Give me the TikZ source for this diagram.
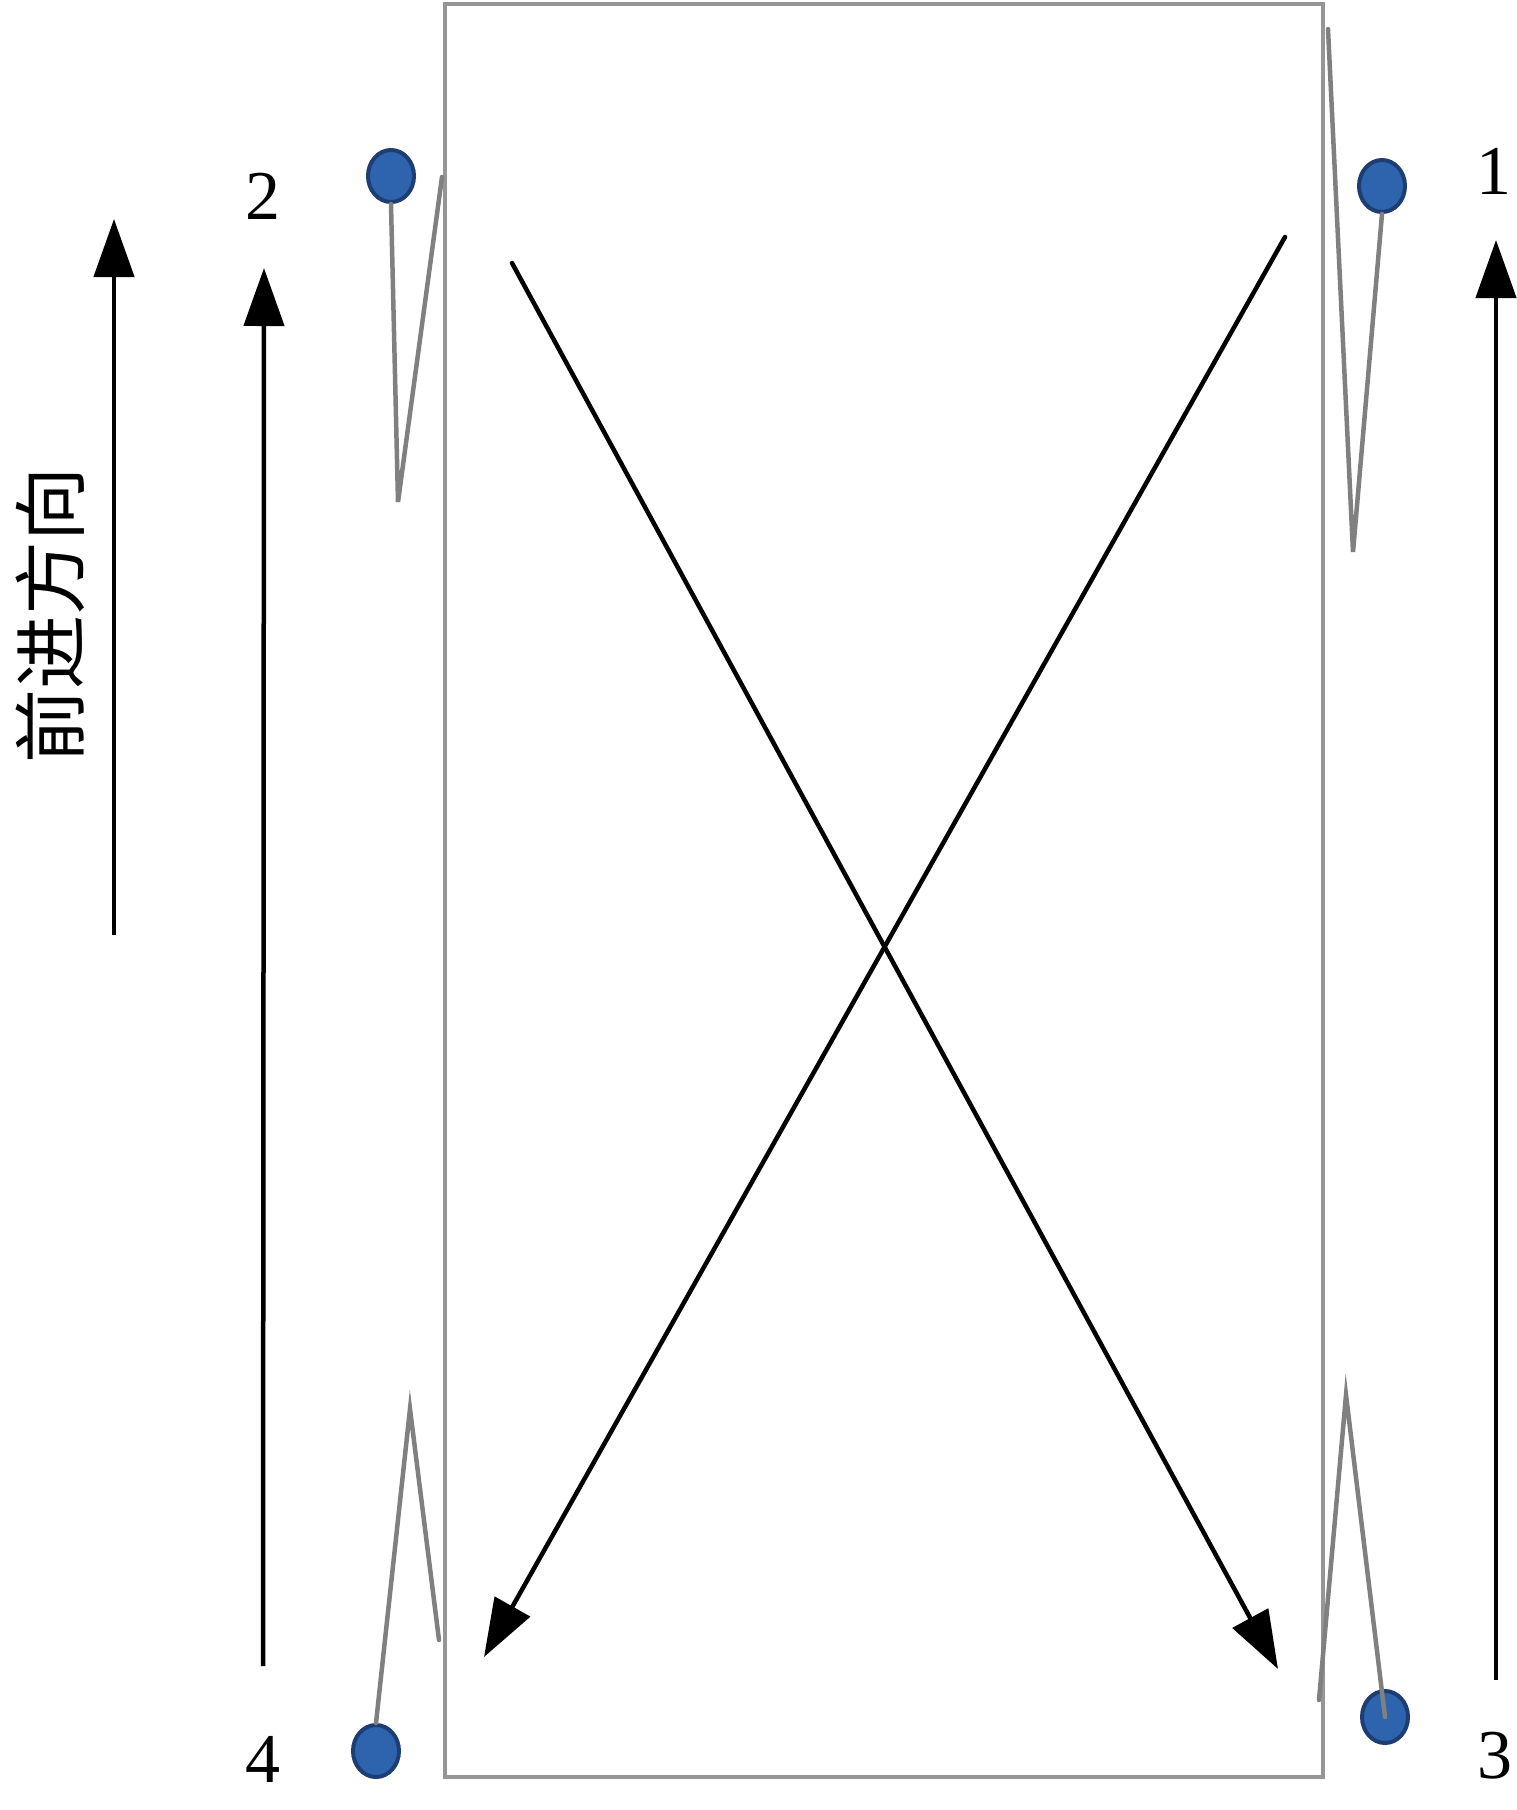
\documentclass[tikz,border=0pt]{standalone}
\usepackage{fontspec}
\setmainfont{Liberation Serif}
\newfontfamily\cjk{Noto Sans CJK SC}
\usetikzlibrary{arrows.meta,shapes.geometric}
\definecolor{pinfill}{RGB}{46,99,173}
\definecolor{pinedge}{RGB}{30,62,115}
\definecolor{wire}{RGB}{128,128,128}
\definecolor{frame}{RGB}{150,150,150}
\tikzset{
  pin/.style={ellipse,draw=pinedge,fill=pinfill,line width=4pt,minimum width=46pt,minimum height=52pt,inner sep=0pt},
  wireline/.style={draw=wire,line width=4.5pt,line cap=round,line join=miter},
  arr/.style={draw=black,line width=4.5pt,-{Triangle[length=58pt,width=40pt]}},
  lbl/.style={font=\fontsize{70}{70}\selectfont,inner sep=0pt},
}
\begin{document}
\begin{tikzpicture}[x=1pt,y=-1pt]
\useasboundingbox (0,0) rectangle (1516,1810);
% frame
\draw[frame,line width=4pt] (445,4) rectangle (1323,1777);
% zigzag wires and pins
\node[pin] (p2) at (391,176) {};
\node[pin] (p1) at (1382,186) {};
\node[pin] (p4) at (376,1751) {};
\coordinate (w2a) at (398,502);
\coordinate (w2b) at (442,177);
\coordinate (w1a) at (1353,552);
\coordinate (w1b) at (1328,29);
\coordinate (w4a) at (410,1409);
\coordinate (w4b) at (439,1640);
\coordinate (w3a) at (1346,1395);
\coordinate (w3b) at (1319,1700);
\draw[wireline] (p2.south) -- (w2a) -- (w2b);
\draw[wireline] (p1.south) -- (w1a) -- (w1b);
\draw[wireline] (p4.north) -- (w4a) -- (w4b);
\node[pin] (p3) at (1385,1717) {};
\draw[wireline] (p3.center) -- (w3a) -- (w3b);
% labels
\node[lbl] (l1) at (1494,171) {1};
\node[lbl] (l2) at (263,196) {2};
\node[lbl] (l3) at (1495,1756) {3};
\node[lbl] (l4) at (263,1759) {4};
\node[font=\cjk\fontsize{74}{74}\selectfont,rotate=90,inner sep=0pt] (dir) at (50,615) {前进方向};
% direction arrows
\coordinate (a0s) at (114,935);
\coordinate (a0e) at (114,219);
\coordinate (a2s) at (263,1666);
\coordinate (a2e) at (264,268);
\coordinate (a1s) at (1496,1680);
\coordinate (a1e) at (1496,240);
\draw[arr] (a0s) -- (a0e);
\draw[arr] (a2s) -- (a2e);
\draw[arr] (a1s) -- (a1e);
% cross arrows
\coordinate (xAs) at (512,263);
\coordinate (xAe) at (1278,1669);
\coordinate (xBs) at (1285,237);
\coordinate (xBe) at (484,1657);
\draw[arr,line cap=round] (xAs) -- (xAe);
\draw[arr,line cap=round] (xBs) -- (xBe);
\end{tikzpicture}
\end{document}
